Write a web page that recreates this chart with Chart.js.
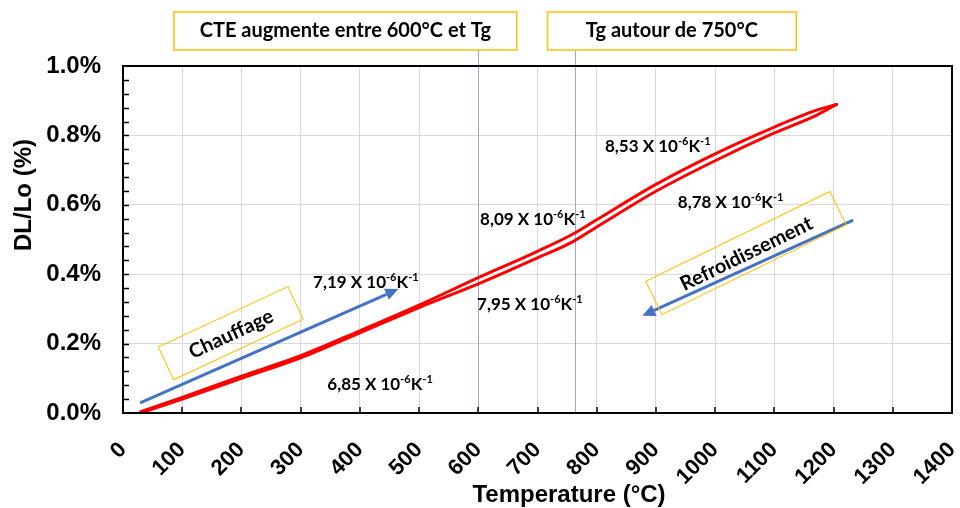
<!DOCTYPE html>
<html>
<head>
<meta charset="utf-8">
<script src="https://cdn.jsdelivr.net/npm/chart.js@4.4.1/dist/chart.umd.min.js"></script>
<style>
  html, body { margin: 0; padding: 0; background: #fff; }
  #wrap { width: 960px; height: 508px; }
</style>
</head>
<body>
<div id="wrap"><canvas id="chart" width="960" height="508"></canvas></div>
<script>
// Temperature (°C) and DL/Lo (%)
var temps   = [30,    100,   200,   300,   400,   500,   600,   700,   760,   800,   900,   1000,  1100,  1170,  1205];
var heating = [0.000, 0.040, 0.100, 0.159, 0.231, 0.304, 0.372, 0.447, 0.494, 0.536, 0.639, 0.727, 0.807, 0.857, 0.889];
var cooling = [0.004, 0.045, 0.106, 0.165, 0.237, 0.311, 0.390, 0.466, 0.516, 0.557, 0.659, 0.747, 0.824, 0.872, 0.889];

var xMin = 0, xMax = 1400, xStep = 100;
var yMin = 0, yMax = 1.0, yStep = 0.2;

var xTitle = "Temperature (°C)";
var yTitle = "DL/Lo (%)";
var topNotes = ["CTE augmente entre 600°C et Tg", "Tg autour de 750°C"];
var tgLines = [600, 763];
var cteLabels = ["7,19", "6,85", "8,09", "7,95", "8,53", "8,78"];
var boxLabels = ["Chauffage", "Refroidissement"];

function pts(ys) {
    return temps.map(function (t, i) { return { x: t, y: ys[i] }; });
}

// annotation placement (data coords)
var ctePos = [
    { x: 321, y: 0.375 }, { x: 345, y: 0.081 }, { x: 603, y: 0.559 },
    { x: 598, y: 0.314 }, { x: 814, y: 0.769 }, { x: 937, y: 0.606 }
];
var topBoxes = [{ x0: 86, x1: 665 }, { x0: 717, x1: 1137 }];
var arrows = [
    { x0: 29, y0: 0.029, x1: 465, y1: 0.357 },
    { x0: 1233, y0: 0.556, x1: 877, y1: 0.280 }
];
var tiltBoxes = [
    { x: 182, y: 0.23, w: 143, h: 36, a: -25 },
    { x: 1052, y: 0.461, w: 205, h: 37, a: -26 }
];

var NOTE_FONT = "Lato";
var AX_FONT = "'Liberation Sans', Arial, sans-serif";

function cteText(ctx, x, y, val) {
    var big = "bold 17px " + NOTE_FONT, small = "bold 11px " + NOTE_FONT;
    var parts = [[val + " X 10", big, 0], ["-6", small, -5], ["K", big, 0], ["-1", small, -5]];
    ctx.textBaseline = "middle";
    ctx.textAlign = "left";
    ctx.fillStyle = "#000";
    parts.forEach(function (p) {
        ctx.font = p[1];
        ctx.fillText(p[0], x, y + p[2]);
        x += ctx.measureText(p[0]).width;
    });
}

function arrow(ctx, x0, y0, x1, y1) {
    var ang = Math.atan2(y1 - y0, x1 - x0), hl = 13, hw = 6;
    var bx = x1 - hl * Math.cos(ang), by = y1 - hl * Math.sin(ang);
    ctx.strokeStyle = "#4472c4";
    ctx.fillStyle = "#4472c4";
    ctx.lineWidth = 3;
    ctx.beginPath();
    ctx.moveTo(x0, y0);
    ctx.lineTo(bx, by);
    ctx.stroke();
    ctx.beginPath();
    ctx.moveTo(x1, y1);
    ctx.lineTo(bx + hw * Math.sin(ang), by - hw * Math.cos(ang));
    ctx.lineTo(bx - hw * Math.sin(ang), by + hw * Math.cos(ang));
    ctx.closePath();
    ctx.fill();
}

var extras = {
    id: "extras",
    beforeDraw: function (chart) {
        var ctx = chart.ctx;
        ctx.save();
        ctx.fillStyle = "#fff";
        ctx.fillRect(0, 0, chart.width, chart.height);
        ctx.restore();
    },
    beforeDatasetsDraw: function (chart) {
        var ctx = chart.ctx, xs = chart.scales.x, a = chart.chartArea;
        ctx.save();
        ctx.strokeStyle = "#8faadc";
        ctx.lineWidth = 1;
        tgLines.forEach(function (t) {
            var px = Math.round(xs.getPixelForValue(t)) + 0.5;
            ctx.beginPath();
            ctx.moveTo(px, 50);
            ctx.lineTo(px, a.bottom);
            ctx.stroke();
        });
        ctx.restore();
    },
    afterDraw: function (chart) {
        var ctx = chart.ctx, xs = chart.scales.x, ys = chart.scales.y, a = chart.chartArea;
        ctx.save();

        // axis box
        ctx.strokeStyle = "#000";
        ctx.lineWidth = 2;
        ctx.strokeRect(a.left, a.top, a.right - a.left, a.bottom - a.top);

        // inside ticks
        ctx.lineWidth = 1.5;
        ctx.beginPath();
        for (var v = xMin + xStep; v < xMax; v += xStep) {
            var px = Math.round(xs.getPixelForValue(v));
            ctx.moveTo(px, a.bottom);
            ctx.lineTo(px, a.bottom - 6);
        }
        for (var k = 1; k < 25; k++) {
            var py = Math.round(ys.getPixelForValue(k * 0.04)) + 0.5;
            ctx.moveTo(a.left, py);
            ctx.lineTo(a.left + 6, py);
        }
        ctx.stroke();

        // axis titles
        ctx.fillStyle = "#000";
        ctx.font = "bold 24px " + AX_FONT;
        ctx.textAlign = "center";
        ctx.textBaseline = "middle";
        ctx.fillText(xTitle, 569, 495);
        ctx.save();
        ctx.translate(24, 195);
        ctx.rotate(-Math.PI / 2);
        ctx.fillText(yTitle, 0, 0);
        ctx.restore();

        // top notes
        topBoxes.forEach(function (b, i) {
            var l = xs.getPixelForValue(b.x0), r = xs.getPixelForValue(b.x1);
            ctx.fillStyle = "#fff";
            ctx.fillRect(l, 12, r - l, 38);
            ctx.strokeStyle = "#ffc000";
            ctx.lineWidth = 1.5;
            ctx.strokeRect(l, 12, r - l, 38);
            ctx.fillStyle = "#000";
            ctx.font = "bold 20px " + NOTE_FONT;
            ctx.textAlign = "center";
            ctx.textBaseline = "middle";
            ctx.fillText(topNotes[i], (l + r) / 2, 31);
        });

        // arrows
        arrows.forEach(function (ar) {
            arrow(ctx, xs.getPixelForValue(ar.x0), ys.getPixelForValue(ar.y0),
                  xs.getPixelForValue(ar.x1), ys.getPixelForValue(ar.y1));
        });

        // tilted boxes
        tiltBoxes.forEach(function (b, i) {
            ctx.save();
            ctx.translate(xs.getPixelForValue(b.x), ys.getPixelForValue(b.y));
            ctx.rotate(b.a * Math.PI / 180);
            ctx.strokeStyle = "#ffc000";
            ctx.lineWidth = 1;
            ctx.strokeRect(-b.w / 2, -b.h / 2, b.w, b.h);
            ctx.fillStyle = "#000";
            ctx.font = "bold 20px " + NOTE_FONT;
            ctx.textAlign = "center";
            ctx.textBaseline = "middle";
            ctx.fillText(boxLabels[i], 0, 1);
            ctx.restore();
        });

        // CTE values
        cteLabels.forEach(function (s, i) {
            cteText(ctx, xs.getPixelForValue(ctePos[i].x), ys.getPixelForValue(ctePos[i].y), s);
        });

        ctx.restore();
    }
};

var chart = new Chart(document.getElementById("chart"), {
    type: "line",
    data: {
        datasets: [
            { label: "Chauffage", data: pts(heating) },
            { label: "Refroidissement", data: pts(cooling) }
        ]
    },
    options: {
        responsive: false,
        animation: false,
        layout: { padding: { top: 66, right: 8, left: 0, bottom: 0 } },
        elements: {
            line: {
                borderColor: "#ff0000", borderWidth: 3, fill: false,
                borderCapStyle: "round", cubicInterpolationMode: "monotone"
            },
            point: { radius: 0 }
        },
        plugins: { legend: { display: false }, tooltip: { enabled: false } },
        scales: {
            x: {
                type: "linear",
                min: xMin, max: xMax,
                afterFit: function (s) { s.height = 95; s.paddingLeft = 0; s.paddingRight = 0; },
                grid: { color: "#d9d9d9", lineWidth: 1, drawTicks: false },
                border: { display: false },
                ticks: {
                    stepSize: xStep, autoSkip: false,
                    minRotation: 45, maxRotation: 45, padding: 24,
                    color: "#000",
                    font: { family: AX_FONT, size: 22, weight: "bold" },
                    callback: function (v) { return String(v); }
                }
            },
            y: {
                min: yMin, max: yMax,
                afterFit: function (s) { s.width = 123; s.paddingTop = 0; s.paddingBottom = 0; },
                grid: { color: "#d9d9d9", lineWidth: 1, drawTicks: false },
                border: { display: false },
                ticks: {
                    stepSize: yStep, padding: 22, color: "#000",
                    font: { family: AX_FONT, size: 24, weight: "bold" },
                    callback: function (v) { return v.toFixed(1) + "%"; }
                }
            }
        }
    },
    plugins: [extras]
});
</script>
</body>
</html>
